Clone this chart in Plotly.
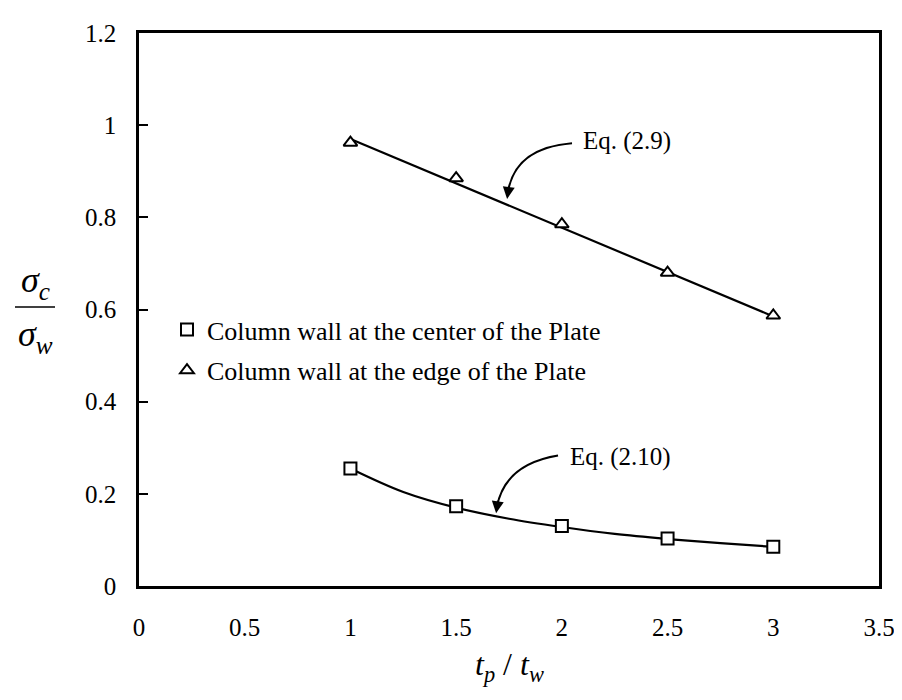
import plotly.graph_objects as go

# ---- data ----
ratio_pts = [1.0, 1.5, 2.0, 2.5, 3.0]
center_vals = [0.255, 0.173, 0.130, 0.103, 0.085]   # squares
edge_vals = [0.962, 0.885, 0.785, 0.680, 0.587]     # triangles

eq29_x = [1.0, 3.0]
eq29_y = [0.970, 0.585]

eq210_x = [1.0, 1.25, 1.5, 1.75, 2.0, 2.25, 2.5, 2.75, 3.0]
eq210_y = [0.255, 0.204, 0.170, 0.146, 0.128, 0.113, 0.102, 0.093, 0.085]

x_ticks = [0, 0.5, 1, 1.5, 2, 2.5, 3, 3.5]
x_tick_labels = ["0", "0.5", "1", "1.5", "2", "2.5", "3", "3.5"]
y_ticks = [0, 0.2, 0.4, 0.6, 0.8, 1.0, 1.2]
y_tick_labels = ["0", "0.2", "0.4", "0.6", "0.8", "1", "1.2"]

legend_center = "Column wall at the center of the Plate"
legend_edge = "Column wall at the edge of the Plate"

FONT = "Liberation Serif, Times New Roman, serif"
FS = 25

W, H = 902, 700
L, R, T, B = 131, 31, 15, 122
pw, ph = W - L - R, H - T - B


def px(xp):
    return (xp - L) / pw


def py(yp):
    return (H - B - yp) / ph


fig = go.Figure()

fig.add_trace(go.Scatter(x=eq29_x, y=eq29_y, mode="lines",
                         line=dict(color="black", width=2.2), showlegend=False, hoverinfo="skip"))
fig.add_trace(go.Scatter(x=eq210_x, y=eq210_y, mode="lines", line_shape="spline",
                         line=dict(color="black", width=2.2), showlegend=False, hoverinfo="skip"))

fig.add_trace(go.Scatter(x=ratio_pts, y=center_vals, mode="markers", name=legend_center,
                         legendgroup="a",
                         marker=dict(symbol="square", size=12, color="white",
                                     line=dict(color="black", width=2))))
fig.add_trace(go.Scatter(x=ratio_pts, y=edge_vals, mode="markers", name=legend_edge,
                         legendgroup="b",
                         marker=dict(symbol="triangle-up", size=12, color="white",
                                     line=dict(color="black", width=2))))


def curve(x0, y0, cx, cy, x1, y1):
    return f"M {x0},{y0} Q {cx},{cy} {x1},{y1}"


fig.add_shape(type="path", xref="x", yref="y",
              path=curve(2.048, 0.961, 1.779, 0.951, 1.745, 0.855),
              line=dict(color="black", width=2))
fig.add_shape(type="path", xref="x", yref="y",
              path=curve(1.982, 0.283, 1.731, 0.264, 1.693, 0.172),
              line=dict(color="black", width=2))

fig.add_annotation(x=1.741, y=0.840, xref="x", yref="y", ax=2, ay=-14, axref="pixel", ayref="pixel",
                   showarrow=True, arrowhead=2, arrowsize=1.2, arrowwidth=2, arrowcolor="black", text="")
fig.add_annotation(x=1.689, y=0.158, xref="x", yref="y", ax=2, ay=-14, axref="pixel", ayref="pixel",
                   showarrow=True, arrowhead=2, arrowsize=1.2, arrowwidth=2, arrowcolor="black", text="")

fig.add_annotation(x=2.09, y=0.965, xref="x", yref="y", text="Eq. (2.9)", showarrow=False,
                   xanchor="left", yanchor="middle", font=dict(family=FONT, size=FS, color="black"))
fig.add_annotation(x=2.03, y=0.279, xref="x", yref="y", text="Eq. (2.10)", showarrow=False,
                   xanchor="left", yanchor="middle", font=dict(family=FONT, size=FS, color="black"))

# y axis title as a fraction sigma_c / sigma_w
fig.add_annotation(x=px(27), y=py(294), xref="paper", yref="paper", showarrow=False,
                   xanchor="center", yanchor="bottom",
                   text="<i>σ</i><sub><i>c</i></sub>", font=dict(family=FONT, size=36, color="black"))
fig.add_annotation(x=px(27), y=py(299), xref="paper", yref="paper", showarrow=False,
                   xanchor="center", yanchor="top",
                   text="<i>σ</i><sub><i>w</i></sub>", font=dict(family=FONT, size=36, color="black"))
fig.add_shape(type="line", xref="paper", yref="paper", x0=px(7), x1=px(47), y0=py(294), y1=py(294),
              line=dict(color="black", width=1.5))

# x axis title t_p / t_w
fig.add_annotation(x=px(501), y=py(660), xref="paper", yref="paper", showarrow=False,
                   xanchor="center", yanchor="middle",
                   text="<i>t</i><sub><i>p</i></sub> / <i>t</i><sub><i>w</i></sub>",
                   font=dict(family=FONT, size=32, color="black"))

fig.update_layout(
    width=W, height=H,
    margin=dict(l=L, r=R, t=T, b=B),
    paper_bgcolor="white", plot_bgcolor="white",
    font=dict(family=FONT, size=FS, color="black"),
    legend=dict(x=px(159), y=py(293), xanchor="left", yanchor="top",
                font=dict(family=FONT, size=26, color="black"),
                bgcolor="rgba(0,0,0,0)", tracegroupgap=4, itemwidth=30),
    xaxis=dict(range=[0, 3.5], tickvals=x_ticks, ticktext=x_tick_labels,
               showgrid=False, zeroline=False, showline=True, linecolor="black", linewidth=2.5,
               mirror=True, ticks="", ticklabelstandoff=17,
               tickfont=dict(family=FONT, size=FS, color="black")),
    yaxis=dict(range=[0, 1.2], tickvals=y_ticks, ticktext=y_tick_labels,
               showgrid=False, zeroline=False, showline=True, linecolor="black", linewidth=2.5,
               mirror=True, ticks="inside", ticklen=9, tickwidth=2, tickcolor="black",
               ticklabelstandoff=15,
               tickfont=dict(family=FONT, size=FS, color="black")),
)

fig.write_html("out.html")
